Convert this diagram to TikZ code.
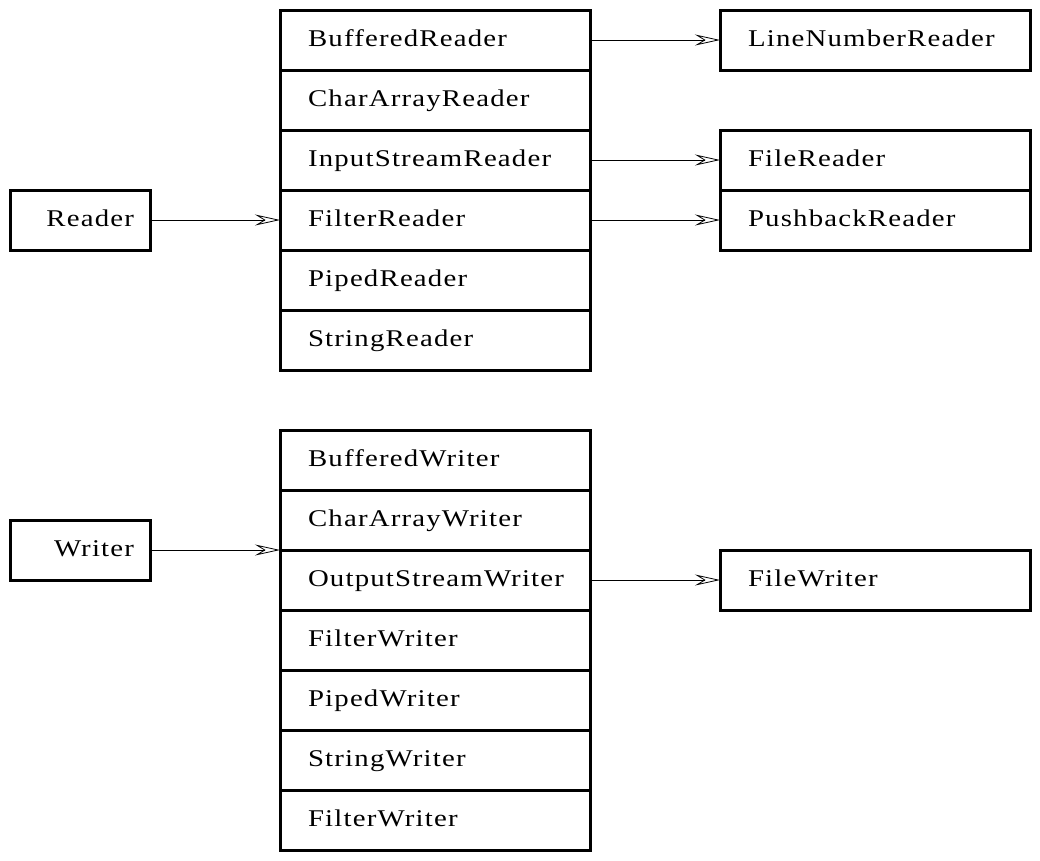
\documentclass[tikz,border=0pt]{standalone}
\usepackage{fontspec}
\setmainfont{Liberation Serif}[FakeStretch=1.2,LetterSpace=5]
\usepackage{tikz}
\usetikzlibrary{arrows.meta,positioning}

\tikzset{
  cls/.style={draw,line width=3pt,outer sep=0pt,minimum width=310pt,
    minimum height=60pt,text width=254pt,inner xsep=28pt,align=left,
    text height=15pt,text depth=2pt,font=\fontsize{24}{28}\selectfont},
  root/.style={draw,line width=3pt,outer sep=0pt,minimum width=140pt,
    minimum height=60pt,text width=108pt,inner xsep=16pt,align=right,
    text height=15pt,text depth=2pt,font=\fontsize{24}{28}\selectfont},
  inh/.style={line width=0.8pt,-{Stealth[open,length=25pt,width=11pt,inset=9pt]}}
}

\begin{document}
\begin{tikzpicture}[x=1pt,y=-1pt]
    \useasboundingbox (0,0) rectangle (1040,860);

    % readers
    \node[root] (reader) at (80,220) {Reader};
    \node[cls,anchor=north west] (bufr) at (280,10) {BufferedReader};
    \node[cls,below=0pt of bufr] (carr) {CharArrayReader};
    \node[cls,below=0pt of carr] (isr) {InputStreamReader};
    \node[cls,below=0pt of isr] (filtr) {FilterReader};
    \node[cls,below=0pt of filtr] (piper) {PipedReader};
    \node[cls,below=0pt of piper] (strr) {StringReader};

    \node[cls,anchor=north west] (lnr) at (720,10) {LineNumberReader};
    \node[cls,anchor=north west] (filer) at (720,130) {FileReader};
    \node[cls,below=0pt of filer] (pbr) {PushbackReader};

    \draw[inh] (reader.east) -- (filtr.west);
    \draw[inh] (bufr.east) -- (lnr.west);
    \draw[inh] (isr.east) -- (filer.west);
    \draw[inh] (filtr.east) -- (pbr.west);

    % writers
    \node[root] (writer) at (80,550) {Writer};
    \node[cls,anchor=north west] (bufw) at (280,430) {BufferedWriter};
    \node[cls,below=0pt of bufw] (carw) {CharArrayWriter};
    \node[cls,below=0pt of carw] (osw) {OutputStreamWriter};
    \node[cls,below=0pt of osw] (filtw) {FilterWriter};
    \node[cls,below=0pt of filtw] (pipew) {PipedWriter};
    \node[cls,below=0pt of pipew] (strw) {StringWriter};
    \node[cls,below=0pt of strw] (filtw2) {FilterWriter};

    \node[cls,anchor=north west] (filew) at (720,550) {FileWriter};

    \draw[inh] (writer.east) -- (carw.south west);
    \draw[inh] (osw.east) -- (filew.west);
  \end{tikzpicture}
\end{document}
